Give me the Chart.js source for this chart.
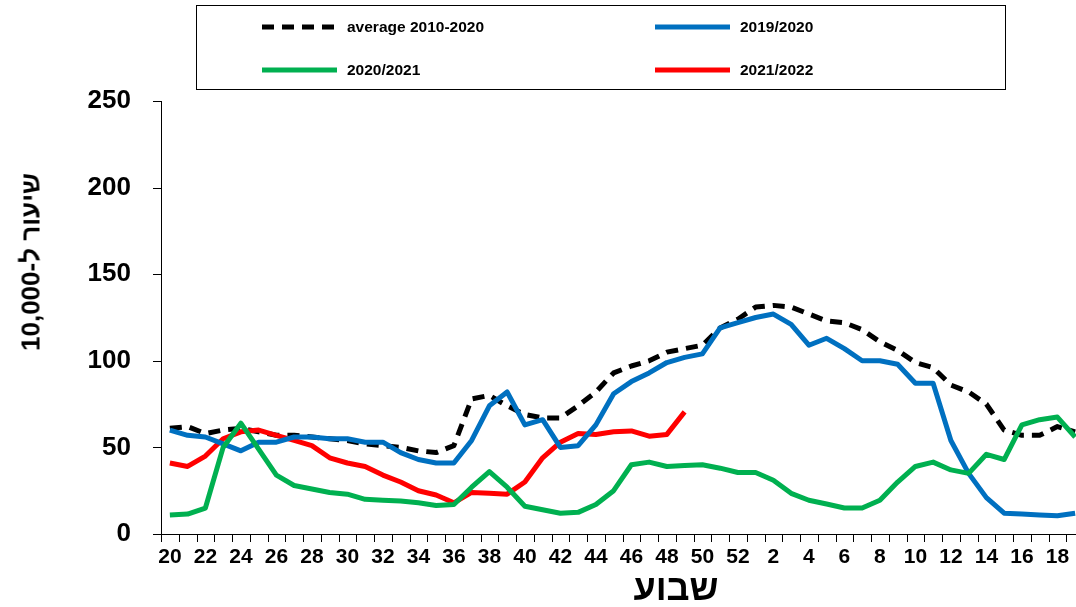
<!DOCTYPE html>
<html>
<head>
<meta charset="utf-8">
<script src="https://cdn.jsdelivr.net/npm/chart.js"></script>
<style>
  body { margin: 0; background: #fff; font-family: "Liberation Sans", Arial, sans-serif; overflow: hidden; }
  #wrap { position: relative; width: 1076px; height: 607px; overflow: hidden; }
  #legend { position: absolute; left: 196px; top: 5px; width: 810px; height: 85px; border: 1px solid #000; box-sizing: border-box; }
  .item { position: absolute; display: flex; align-items: center; font-weight: bold; font-size: 15.5px; }
  .item svg { margin-right: 10px; }
  #ytitle { position: absolute; left: 31px; top: 262px; transform: translate(-50%, -50%) rotate(-90deg); font-weight: bold; font-size: 26px; white-space: nowrap; }
  #xtitle { position: absolute; left: 676px; top: 588px; transform: translate(-50%, -50%); font-weight: bold; font-size: 36px; white-space: nowrap; }
</style>
</head>
<body>
<div id="wrap">
  <canvas id="c" width="1084" height="607"></canvas>
  <div id="legend">
    <div class="item" style="left:65px;top:12px"><svg width="75" height="8"><line x1="0" y1="4" x2="75" y2="4" stroke="#000" stroke-width="5" stroke-dasharray="12 8"/></svg>average 2010-2020</div>
    <div class="item" style="left:458px;top:12px"><svg width="75" height="8"><line x1="0" y1="4" x2="75" y2="4" stroke="#0070C0" stroke-width="5"/></svg>2019/2020</div>
    <div class="item" style="left:65px;top:55px"><svg width="75" height="8"><line x1="0" y1="4" x2="75" y2="4" stroke="#00B050" stroke-width="5"/></svg>2020/2021</div>
    <div class="item" style="left:458px;top:55px"><svg width="75" height="8"><line x1="0" y1="4" x2="75" y2="4" stroke="#FF0000" stroke-width="5"/></svg>2021/2022</div>
  </div>
  <div id="ytitle" dir="rtl">שיעור ל-10,000</div>
  <div id="xtitle" dir="rtl">שבוע</div>
</div>
<script>
const weeks = ['20','21','22','23','24','25','26','27','28','29','30','31','32','33','34','35','36','37','38','39','40','41','42','43','44','45','46','47','48','49','50','51','52',
  '1','2','3','4','5','6','7','8','9','10','11','12','13','14','15','16','17','18','19'];
const average = [61,62,58,60,61,59,57,57,56,55,54,52,51,50,48,47,51,78,80,74,69,67,67,74,82,93,97,100,105,107,109,119,124,
  131,132,131,127,123,122,118,111,106,99,96,86,82,75,60,57,57,62,59];
const s2019 = [60,57,56,52,48,53,53,56,56,55,55,53,53,47,43,41,41,54,74,82,63,66,50,51,63,81,88,93,99,102,104,119,122,
  125,127,121,109,113,107,100,100,98,87,87,54,35,21,12,11.5,11,10.5,12];
const s2020 = [11,11.5,15,50,64,49,34,28,26,24,23,20,19.5,19,18,16.5,17,27,36,27,16,14,12,12.5,17,25,40,41.5,39,39.5,40,38,35.5,
  35.5,31,23.5,19.5,17.3,15,15,19.5,30,39,41.5,37,35,46,43,63,66,67.5,56];
const s2021 = [41,39,45,55,59,60,57,54,51,44,41,39,34,30,25,22.5,18,24,23.5,23,30,44,53,58,57.5,59,59.5,56.5,57.5,70.5];
const yTicks = [0,50,100,150,200,250];

function line(data, color, dash) {
  return { data, borderColor: color, borderWidth: 5, borderDash: dash || [], pointRadius: 0, fill: false, tension: 0, borderJoinStyle: 'round' };
}

new Chart(document.getElementById('c'), {
  type: 'line',
  data: {
    labels: weeks,
    datasets: [
      line(s2020, '#00B050'),
      line(s2019, '#0070C0'),
      line(s2021, '#FF0000'),
      line(average, '#000000', [12, 8])
    ]
  },
  options: {
    responsive: false,
    animation: false,
    layout: { padding: { top: 101, right: 0 } },
    plugins: { legend: { display: false }, tooltip: { enabled: false } },
    scales: {
      x: {
        offset: true,
        grid: { display: false },
        border: { color: '#000', width: 1 },
        ticks: {
          autoSkip: false, maxRotation: 0, color: '#000', padding: 3,
          font: { family: 'Liberation Sans', size: 21, weight: 'bold' },
          callback: (v, i) => i % 2 === 0 ? weeks[i] : null
        },
        afterFit: s => { s.height = 73; }
      },
      y: {
        min: 0, max: 250,
        afterBuildTicks: s => { s.ticks = yTicks.map(v => ({ value: v })); },
        grid: { display: false },
        border: { color: '#000', width: 1 },
        ticks: { color: '#000', padding: 22, font: { family: 'Liberation Sans', size: 26, weight: 'bold' } },
        afterFit: s => { s.width = 161; }
      }
    }
  },
  plugins: [{
    id: 'ticksOut',
    afterDraw(chart) {
      const { ctx, scales: { y }, chartArea } = chart;
      ctx.save();
      ctx.strokeStyle = '#000'; ctx.lineWidth = 1;
      for (let i = 0; i <= weeks.length; i++) {
        const px = Math.round(chartArea.left + i * (chartArea.width / weeks.length)) + 0.5;
        ctx.beginPath(); ctx.moveTo(px, chartArea.bottom); ctx.lineTo(px, chartArea.bottom + 8); ctx.stroke();
      }
      yTicks.forEach(v => {
        const py = Math.round(y.getPixelForValue(v)) + 0.5;
        ctx.beginPath(); ctx.moveTo(chartArea.left - 8, py); ctx.lineTo(chartArea.left, py); ctx.stroke();
      });
      ctx.restore();
    }
  }]
});
</script>
</body>
</html>
